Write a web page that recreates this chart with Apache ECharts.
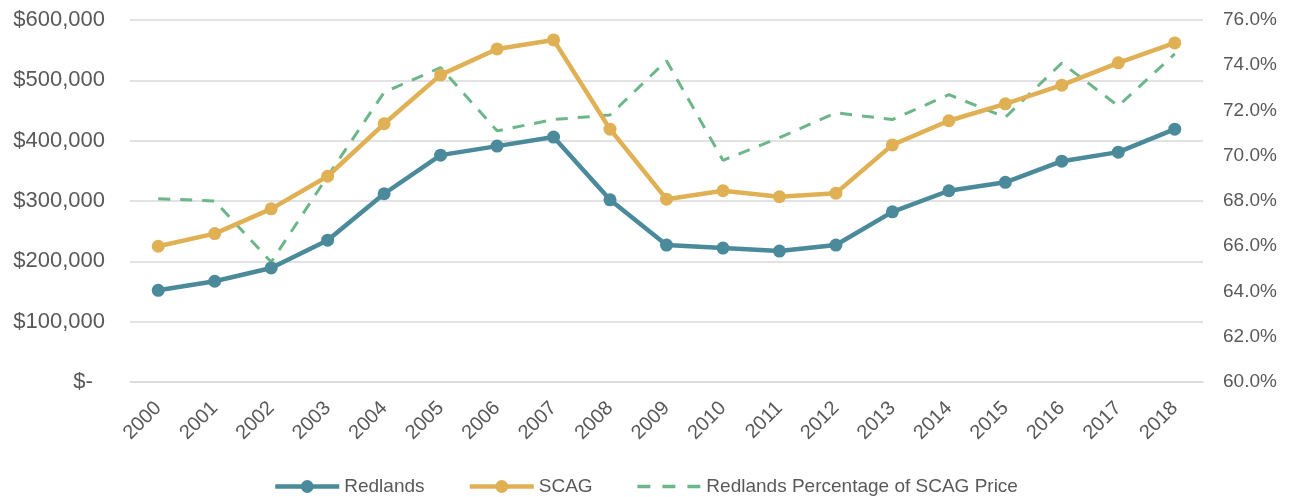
<!DOCTYPE html>
<html>
<head>
<meta charset="utf-8">
<script src="https://cdn.jsdelivr.net/npm/echarts@6/dist/echarts.min.js"></script>
<style>
  html, body { margin: 0; padding: 0; background: #fff; }
  #chart { width: 1296px; height: 497px; }
</style>
</head>
<body>
<div id="chart"></div>
<script>
var years = ['2000', '2001', '2002', '2003', '2004', '2005', '2006', '2007', '2008', '2009',
    '2010', '2011', '2012', '2013', '2014', '2015', '2016', '2017', '2018']
var redlands = [152000, 167000, 189000, 235000, 312000, 376000, 391000, 406000, 302000, 227000,
    222000, 217000, 227000, 282000, 317000, 331000, 366000, 381000, 419000]
var scag = [225000, 246000, 287000, 341000, 428000, 509000, 552000, 567000, 419000, 303000,
    317000, 307000, 313000, 393000, 433000, 461000, 492000, 529000, 562000]
var pct = [68.1, 68.0, 65.3, 69.1, 72.8, 73.9, 71.1, 71.6, 71.8, 74.2,
    69.8, 70.8, 71.9, 71.6, 72.7, 71.7, 74.1, 72.2, 74.5]

var textColor = '#595959'
var axisFont = 'Liberation Sans, Arial, sans-serif'

var myChart = echarts.init(document.getElementById('chart'))
var option = {
    animation: false,
    grid: { left: 130, right: 93, top: 20, bottom: 115 },
    legend: {
        top: 472,
        left: 268,
        itemWidth: 64,
        itemHeight: 16,
        itemGap: 43,
        textStyle: { color: textColor, fontSize: 19, fontFamily: axisFont },
        data: [{
            name: 'Redlands',
            lineStyle: { width: 4.5 }
        }, {
            name: 'SCAG',
            lineStyle: { width: 4.5 }
        }, {
            name: 'Redlands Percentage of SCAG Price',
            itemStyle: { opacity: 0 },
            lineStyle: { width: 3.5, type: [13, 12] }
        }]
    },
    xAxis: {
        type: 'category',
        data: years,
        boundaryGap: true,
        axisTick: { show: false },
        axisLine: { lineStyle: { color: '#d9d9d9', width: 1.5 } },
        axisLabel: { rotate: 45, margin: 23, color: textColor, fontSize: 20, fontFamily: axisFont }
    },
    yAxis: [{
        type: 'value',
        min: 0,
        max: 600000,
        interval: 100000,
        axisLine: { show: false },
        axisTick: { show: false },
        splitLine: { lineStyle: { color: '#d9d9d9', width: 1.5 } },
        axisLabel: {
            margin: 25,
            color: textColor, fontSize: 22, fontFamily: axisFont,
            formatter: function (v) {
                return v === 0 ? '$-  ' : '$' + v.toLocaleString('en-US')
            }
        }
    }, {
        type: 'value',
        min: 60,
        max: 76,
        interval: 2,
        axisLine: { show: false },
        axisTick: { show: false },
        splitLine: { show: false },
        axisLabel: {
            margin: 20,
            color: textColor, fontSize: 19, fontFamily: axisFont,
            formatter: function (v) { return v.toFixed(1) + '%' }
        }
    }],
    series: [{
        name: 'Redlands',
        type: 'line',
        data: redlands,
        symbol: 'circle',
        symbolSize: 13,
        color: '#4a8a9a',
        lineStyle: { width: 4.5 },
        z: 3
    }, {
        name: 'SCAG',
        type: 'line',
        data: scag,
        symbol: 'circle',
        symbolSize: 13,
        color: '#e0b055',
        lineStyle: { width: 4.5 },
        z: 2
    }, {
        name: 'Redlands Percentage of SCAG Price',
        type: 'line',
        yAxisIndex: 1,
        data: pct,
        symbol: 'none',
        color: '#6cb68a',
        lineStyle: { width: 3, type: [12, 10] },
        z: 1
    }]
}
myChart.setOption(option)
</script>
</body>
</html>
